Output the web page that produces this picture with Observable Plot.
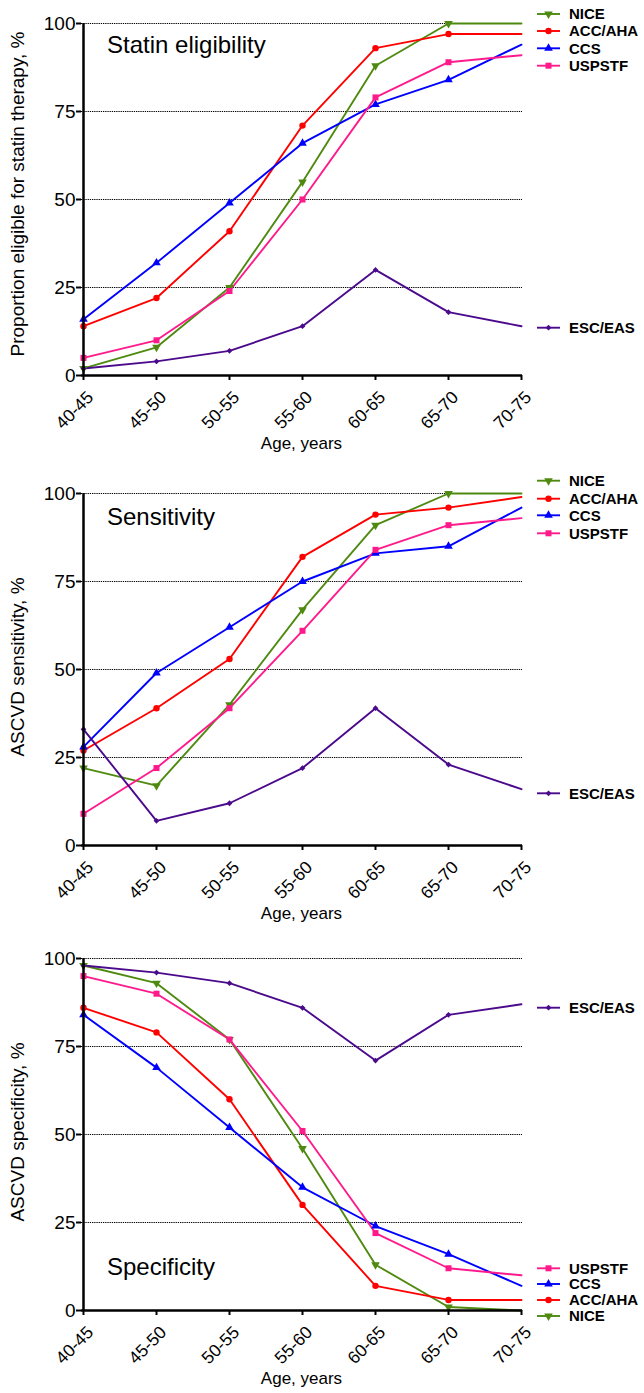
<!DOCTYPE html>
<html>
<head>
<meta charset="utf-8">
<script src="https://cdn.jsdelivr.net/npm/d3@7"></script>
<script src="https://cdn.jsdelivr.net/npm/@observablehq/plot@0.6"></script>
<style>
  body { margin: 0; background: #fff; }
  #chart { width: 644px; }
  #chart svg { display: block; }
</style>
</head>
<body>
<div id="chart"></div>
<script>
// Age groups (x categories) and guideline schemes
const ages = ["40-45", "45-50", "50-55", "55-60", "60-65", "65-70", "70-75"];
const schemes = ["NICE", "ACC/AHA", "CCS", "USPSTF", "ESC/EAS"];
const yTicks = [0, 25, 50, 75, 100];
const gridValues = [25, 50, 75, 100];

// Proportion eligible for statin therapy, %
const eligibility = {
  "NICE":    [2, 8, 25, 55, 88, 100, 100],
  "ACC/AHA": [14, 22, 41, 71, 93, 97, 97],
  "CCS":     [16, 32, 49, 66, 77, 84, 94],
  "USPSTF":  [5, 10, 24, 50, 79, 89, 91],
  "ESC/EAS": [2, 4, 7, 14, 30, 18, 14]
};

// ASCVD sensitivity, %
const sensitivity = {
  "NICE":    [22, 17, 40, 67, 91, 100, 100],
  "ACC/AHA": [27, 39, 53, 82, 94, 96, 99],
  "CCS":     [28, 49, 62, 75, 83, 85, 96],
  "USPSTF":  [9, 22, 39, 61, 84, 91, 93],
  "ESC/EAS": [33, 7, 12, 22, 39, 23, 16]
};

// ASCVD specificity, %
const specificity = {
  "NICE":    [98, 93, 77, 46, 13, 1, 0],
  "ACC/AHA": [86, 79, 60, 30, 7, 3, 3],
  "CCS":     [84, 69, 52, 35, 24, 16, 7],
  "USPSTF":  [95, 90, 77, 51, 22, 12, 10],
  "ESC/EAS": [98, 96, 93, 86, 71, 84, 87]
};

// Series styling
const colors = {
  "NICE": "#4f8a10",
  "ACC/AHA": "#ff0000",
  "CCS": "#0000ff",
  "USPSTF": "#ff1a8c",
  "ESC/EAS": "#4b0a8c"
};
const markers = {
  "NICE":    {symbol: "triangle", r: 3.2, rotate: 180},
  "ACC/AHA": {symbol: "circle",   r: 3.2, rotate: 0},
  "CCS":     {symbol: "triangle", r: 3.2, rotate: 0},
  "USPSTF":  {symbol: "square",   r: 3.4, rotate: 0},
  "ESC/EAS": {symbol: "diamond2", r: 2.6, rotate: 0}
};
const d3Symbols = {
  circle: d3.symbolCircle, triangle: d3.symbolTriangle,
  square: d3.symbolSquare, diamond2: d3.symbolDiamond2
};

const FONT = "Arial, 'Liberation Sans', Helvetica, sans-serif";
const W = 644, ML = 81, MR = 122;

function toRows(table) {
  return schemes.flatMap(s => table[s].map((v, i) => ({scheme: s, age: ages[i], value: v})));
}

function panel(cfg) {
  const rows = toRows(cfg.values);
  const lastAge = ages[ages.length - 1];
  const plot = Plot.plot({
    width: W,
    height: cfg.height,
    marginLeft: ML,
    marginRight: MR,
    marginTop: cfg.marginTop,
    marginBottom: cfg.marginBottom,
    style: {fontFamily: FONT, fontSize: "17px", color: "#000", background: "#fff", overflow: "visible"},
    x: {type: "point", domain: ages, padding: 0, label: null},
    y: {domain: [0, 100], label: null},
    color: {domain: schemes, range: schemes.map(s => colors[s])},
    marks: [
      Plot.ruleY(gridValues, {stroke: "#000", strokeWidth: 1, strokeDasharray: "1.3,0.9"}),
      Plot.line(rows, {x: "age", y: "value", z: "scheme", stroke: "scheme", strokeWidth: 1.9}),
      ...schemes.map(s => Plot.dot(rows.filter(d => d.scheme === s && d.age !== lastAge), {
        x: "age", y: "value", fill: colors[s], stroke: "none",
        symbol: markers[s].symbol, r: markers[s].r, rotate: markers[s].rotate
      })),
      Plot.ruleX([ages[0]], {stroke: "#000", strokeWidth: 2.5}),
      Plot.ruleY([0], {stroke: "#000", strokeWidth: 2.5}),
      Plot.axisY({ticks: yTicks, tickSize: 5, tickPadding: 1, strokeWidth: 2, fontSize: 19, label: null}),
      Plot.axisX({tickSize: 5, tickPadding: 2, tickRotate: -45, strokeWidth: 2, fontSize: 17.5, label: null,
        textStroke: "none"}),
    ]
  });

  const svg = d3.select(plot);
  const y = plot.scale("y");
  const yTop = y.apply(100), yBottom = y.apply(0);

  // Nudge the rotated x tick labels down and right, below the tick marks
  svg.selectAll("g[aria-label='x-axis tick label'] text")
    .attr("transform", function() {
      return d3.select(this).attr("transform").replace(/translate\(([^,]+),([^)]+)\)/,
        (m, a, b) => `translate(${+a + 7},${+b + 12})`);
    });

  // Panel title
  svg.append("text")
    .attr("x", 107).attr("y", cfg.titleBaseline)
    .attr("text-anchor", "start")
    .attr("font-family", FONT).attr("font-size", 24)
    .text(cfg.title);

  // Y axis title
  svg.append("text")
    .attr("transform", `translate(24,${(yTop + yBottom) / 2 + cfg.yLabelShift}) rotate(-90)`)
    .attr("text-anchor", "middle")
    .attr("font-family", FONT).attr("font-size", 19)
    .text(cfg.yLabel);

  // X axis title
  svg.append("text")
    .attr("x", (ML + (W - MR)) / 2).attr("y", yBottom + 74)
    .attr("text-anchor", "middle")
    .attr("font-family", FONT).attr("font-size", 17)
    .text("Age, years");

  // Legend entries
  const lg = svg.append("g");
  cfg.legend.forEach(([name, ly]) => {
    const g = lg.append("g").attr("transform", `translate(0,${ly})`);
    g.append("line").attr("x1", 537).attr("x2", 560).attr("y1", 0).attr("y2", 0)
      .attr("stroke", colors[name]).attr("stroke-width", 1.9);
    const m = markers[name];
    g.append("path")
      .attr("d", d3.symbol(d3Symbols[m.symbol], Math.PI * m.r * m.r)())
      .attr("transform", `translate(548.5,0) rotate(${m.rotate})`)
      .attr("fill", colors[name]);
    g.append("text").attr("x", 569).attr("y", 0).attr("dy", "0.36em")
      .attr("text-anchor", "start")
      .attr("font-family", FONT).attr("font-size", 15).attr("font-weight", "bold")
      .text(name);
  });

  return plot;
}

const chart = document.getElementById("chart");

chart.append(panel({
  values: eligibility,
  title: "Statin eligibility",
  yLabel: "Proportion eligible for statin therapy, %",
  height: 460, marginTop: 23, marginBottom: 85,
  titleBaseline: 53, yLabelShift: -5,
  legend: [["NICE", 14], ["ACC/AHA", 31], ["CCS", 48.3], ["USPSTF", 65.7], ["ESC/EAS", 327.7]]
}));

chart.append(panel({
  values: sensitivity,
  title: "Sensitivity",
  yLabel: "ASCVD sensitivity, %",
  height: 465, marginTop: 33, marginBottom: 80,
  titleBaseline: 65, yLabelShift: -2,
  legend: [["NICE", 20.7], ["ACC/AHA", 38.7], ["CCS", 55.3], ["USPSTF", 73.3], ["ESC/EAS", 333.3]]
}));

chart.append(panel({
  values: specificity,
  title: "Specificity",
  yLabel: "ASCVD specificity, %",
  height: 468, marginTop: 33, marginBottom: 83,
  titleBaseline: 350, yLabelShift: -2,
  legend: [["ESC/EAS", 82.7], ["USPSTF", 343.3], ["CCS", 359], ["ACC/AHA", 375], ["NICE", 391]]
}));
</script>
</body>
</html>
